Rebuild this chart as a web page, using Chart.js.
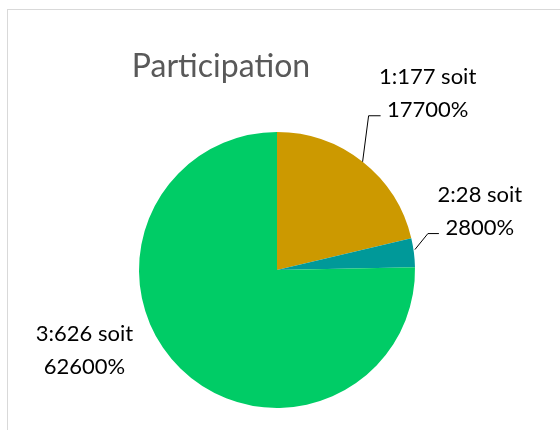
<!DOCTYPE html>
<html>
<head>
<meta charset="utf-8">
<script src="https://cdn.jsdelivr.net/npm/chart.js@4.4.0/dist/chart.umd.min.js"></script>
<style>
  html, body { margin: 0; padding: 0; background: #fff; }
  #wrap { position: relative; width: 560px; height: 430px; }
  #frame { position: absolute; left: 7px; top: 9px; right: -2px; bottom: -2px; border: 1px solid #d9d9d9; }
  canvas { position: absolute; left: 0; top: 0; }
</style>
</head>
<body>
<div id="wrap">
  <div id="frame"></div>
  <canvas id="myChart" width="560" height="430"></canvas>
</div>
<script>
const categories = ["1", "2", "3"];
const values = [177, 28, 626];
const colors = ["#cc9900", "#009999", "#00cc66"];

// label text placement relative to the slice edge, and leader line points
const labelOffsets = [[65, -62], [66, -35], [-96, -12]];
const leaders = [[[0, 0], [6, -46], [18, -46]], [[1, -3], [14, -19], [25, -19]], null];

const outsideLabels = {
    id: "outsideLabels",
    afterDraw(chart) {
        const ctx = chart.ctx;
        const meta = chart.getDatasetMeta(0);
        ctx.save();
        // title
        ctx.fillStyle = "#595959";
        ctx.font = "32px Lato";
        ctx.textAlign = "center";
        ctx.textBaseline = "alphabetic";
        ctx.fillText("Participation", 221, 77);

        ctx.font = "22px Lato";
        meta.data.forEach(function (arc, i) {
            const mid = (arc.startAngle + arc.endAngle) / 2;
            const ax = arc.x + Math.cos(mid) * arc.outerRadius;
            const ay = arc.y + Math.sin(mid) * arc.outerRadius;
            const tx = ax + labelOffsets[i][0];
            const ty = ay + labelOffsets[i][1];
            ctx.fillStyle = "#000";
            ctx.fillText(categories[i] + ":" + values[i] + " soit", tx, ty - 16);
            ctx.fillText(values[i] * 100 + "%", tx, ty + 17);
            if (leaders[i]) {
                ctx.strokeStyle = "#000";
                ctx.lineWidth = 1;
                ctx.beginPath();
                leaders[i].forEach(function (p, j) {
                    if (j === 0) ctx.moveTo(ax + p[0], ay + p[1]);
                    else ctx.lineTo(ax + p[0], ay + p[1]);
                });
                ctx.stroke();
            }
        });
        ctx.restore();
    }
};

new Chart(document.getElementById("myChart"), {
    type: "pie",
    data: {
        labels: categories,
        datasets: [{
            data: values,
            backgroundColor: colors,
            borderWidth: 0
        }]
    },
    options: {
        responsive: false,
        animation: false,
        layout: { padding: { left: 139, right: 145, top: 132, bottom: 22 } },
        plugins: {
            legend: { display: false },
            tooltip: { enabled: false }
        }
    },
    plugins: [outsideLabels]
});
</script>
</body>
</html>
